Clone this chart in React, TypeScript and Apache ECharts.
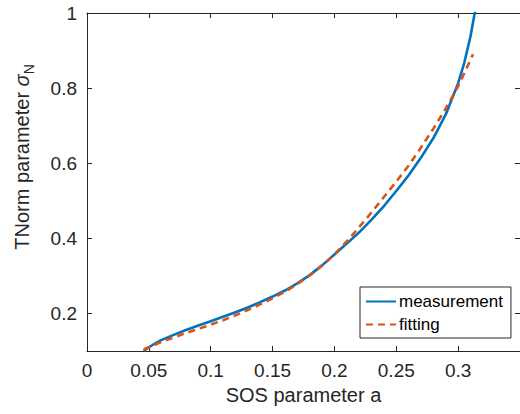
import React, { useEffect, useRef } from "react";
import * as echarts from "echarts";

const measX = [0.0458, 0.05, 0.055, 0.06, 0.07, 0.08, 0.09, 0.1, 0.11, 0.12, 0.13, 0.14, 0.15, 0.16, 0.17, 0.18, 0.19, 0.2, 0.21, 0.22, 0.23, 0.24, 0.25, 0.26, 0.27, 0.28, 0.29, 0.3, 0.305, 0.31, 0.3134, 0.3148];
const measY = [0.1, 0.11, 0.12, 0.129, 0.143, 0.156, 0.168, 0.179, 0.191, 0.203, 0.216, 0.23, 0.245, 0.261, 0.28, 0.302, 0.328, 0.357, 0.386, 0.416, 0.45, 0.486, 0.526, 0.568, 0.615, 0.667, 0.73, 0.813, 0.868, 0.938, 1.0, 1.03];

const fitX = [0.0458, 0.06, 0.07, 0.08, 0.09, 0.1, 0.11, 0.12, 0.13, 0.14, 0.15, 0.16, 0.17, 0.18, 0.19, 0.2, 0.21, 0.22, 0.23, 0.24, 0.25, 0.26, 0.27, 0.28, 0.29, 0.3, 0.306, 0.312];
const fitY = [0.104, 0.124, 0.136, 0.148, 0.159, 0.17, 0.182, 0.195, 0.209, 0.224, 0.24, 0.258, 0.278, 0.301, 0.327, 0.357, 0.392, 0.43, 0.469, 0.51, 0.551, 0.594, 0.642, 0.692, 0.746, 0.805, 0.847, 0.89];

const yTicks = [0.2, 0.4, 0.6, 0.8, 1];

const axisColor = "#262626";
const font = "'Liberation Sans', Arial, Helvetica, sans-serif";

export default function App() {
  const ref = useRef<HTMLDivElement>(null);
  useEffect(() => {
    const chart = echarts.init(ref.current!, null, { renderer: "svg" });
    const axisLine = { show: true, onZero: false, lineStyle: { color: axisColor, width: 1 } };
    const axisTick = { show: true, inside: true, length: 5, lineStyle: { color: axisColor, width: 1 } };
    chart.setOption({
      animation: false,
      backgroundColor: "#fff",
      grid: { left: 76, top: 13, width: 447, height: 338, containLabel: false },
      legend: {
        orient: "vertical",
        left: 360,
        top: 287,
        padding: [6, 8, 5, 5],
        itemWidth: 30,
        itemHeight: 14,
        itemGap: 6,
        backgroundColor: "#fff",
        borderColor: axisColor,
        borderWidth: 1,
        borderRadius: 0,
        itemStyle: { opacity: 0 },
        textStyle: { fontSize: 17, color: "#000", fontFamily: font, padding: [0, 0, 0, -2] },
        data: ["measurement", "fitting"],
      },
      xAxis: [
        {
          type: "value",
          position: "bottom",
          min: 0,
          max: 0.35,
          interval: 0.05,
          axisLine,
          axisTick,
          splitLine: { show: false },
          axisLabel: { fontSize: 19, color: axisColor, fontFamily: font, margin: 10, showMaxLabel: false },
          name: "SOS parameter a",
          nameLocation: "middle",
          nameGap: 33,
          nameTextStyle: { fontSize: 20, color: axisColor, fontFamily: font },
        },
        {
          type: "value",
          position: "top",
          min: 0,
          max: 0.35,
          interval: 0.05,
          axisLine,
          axisTick,
          splitLine: { show: false },
          axisLabel: { show: false },
        },
      ],
      yAxis: [
        {
          type: "value",
          position: "left",
          min: 0.1,
          max: 1,
          axisLine,
          axisTick: { ...axisTick, customValues: yTicks },
          splitLine: { show: false },
          axisLabel: { fontSize: 19, color: axisColor, fontFamily: font, margin: 10, customValues: yTicks },
          name: "TNorm parameter {s|σ}{sub|N}",
          nameLocation: "middle",
          nameGap: 51,
          nameRotate: 90,
          nameTextStyle: {
            fontSize: 20,
            color: axisColor,
            fontFamily: font,
            lineHeight: 28,
            padding: [0, 0, 0, 50],
            rich: {
              s: { fontSize: 20, fontStyle: "italic", color: axisColor, fontFamily: font, lineHeight: 28 },
              sub: { fontSize: 14, color: axisColor, fontFamily: font, verticalAlign: "bottom", lineHeight: 13 },
            },
          },
        },
        {
          type: "value",
          position: "right",
          min: 0.1,
          max: 1,
          axisLine,
          axisTick: { ...axisTick, customValues: yTicks },
          splitLine: { show: false },
          axisLabel: { show: false },
        },
      ],
      series: [
        {
          name: "measurement",
          type: "line",
          data: measX.map((x, i) => [x, measY[i]]),
          symbol: "none",
          smooth: false,
          clip: true,
          itemStyle: { color: "#0072BD" },
          lineStyle: { color: "#0072BD", width: 2.6 },
        },
        {
          name: "fitting",
          type: "line",
          data: fitX.map((x, i) => [x, fitY[i]]),
          symbol: "none",
          smooth: false,
          clip: true,
          itemStyle: { color: "#D95319" },
          lineStyle: { color: "#D95319", width: 2.6, type: [7, 5] },
        },
      ],
    });
    return () => chart.dispose();
  }, []);
  return (
    <div
      ref={ref}
      style={{ position: "absolute", left: 0, top: 0, width: 520, height: 414, background: "#fff" }}
    />
  );
}
